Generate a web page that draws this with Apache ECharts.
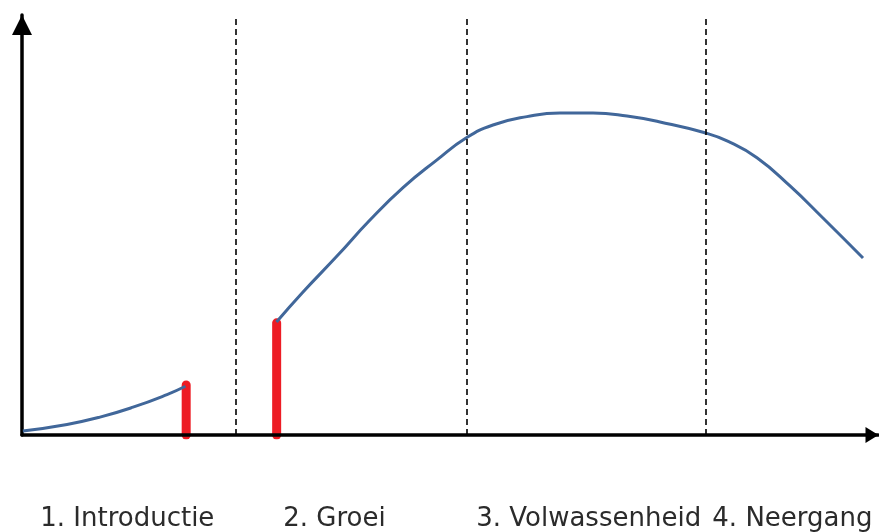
<!DOCTYPE html>
<html>
<head>
<meta charset="utf-8">
<script src="https://cdn.jsdelivr.net/npm/echarts@6/dist/echarts.min.js"></script>
<style>html,body{margin:0;padding:0;background:#fff}#c{width:879px;height:532px}</style>
</head>
<body>
<div id="c"></div>
<script>
// Phase labels and their centre positions on the time axis (0-100)
var phaseLabels = ['1. Introductie', '2. Groei', '3. Volwassenheid', '4. Neergang'];
var phaseLabelPos = [12.3, 36.5, 66.2, 90];
// Phase boundaries (dashed lines)
var phaseBounds = [25, 51.9, 79.9];
// Sales curve, segment 1 (introduction)
var curve1 = [[0.1, 0.95], [5.26, 2.52], [9.11, 4.26], [12.97, 6.62], [16.94, 9.62], [19.1, 11.6]];
// Sales curve, segment 2 (growth, maturity, decline)
var curve2 = [[29.73, 26.9], [32.83, 34.05], [36.8, 42.6], [40.65, 51.19], [44.51, 58.9], [48.48, 65.5],
  [51.87, 70.7], [55.02, 73.8], [58.99, 75.8], [62.85, 76.67], [66.71, 76.67], [70.68, 75.95],
  [74.53, 74.52], [79.67, 72.02], [82.5, 69.9], [85.86, 66.0], [89.72, 59.3], [93.57, 51.67], [98.25, 42.14]];
// Red markers (x position, height)
var redBars = [[19.18, 11.9], [29.75, 26.7]];

var chart = echarts.init(document.getElementById('c'));
var curveStyle = {color: '#41679a', width: 3};
var series = [
  {type: 'line', data: curve1, smooth: 0.5, showSymbol: false, lineStyle: curveStyle, z: 3},
  {type: 'line', data: curve2, smooth: 0.5, showSymbol: false, lineStyle: curveStyle, z: 3,
    markLine: {silent: true, symbol: ['none', 'none'], label: {show: false},
      lineStyle: {color: '#000', type: [6, 4], width: 1.6},
      data: phaseBounds.map(function (b) { return [{coord: [b, 0]}, {coord: [b, 100]}]; })}}
];
redBars.forEach(function (r) {
  series.push({type: 'line', data: [[r[0], 0], [r[0], r[1]]], showSymbol: false,
    lineStyle: {color: '#ed1c24', width: 9, cap: 'round'}, z: 1});
});
chart.setOption({
  animation: false,
  grid: {left: 22, right: 1, top: 15, bottom: 97, containLabel: false},
  xAxis: {type: 'value', min: 0, max: 100, z: 5,
    axisLine: {show: true, onZero: false, symbol: ['none', 'triangle'], symbolSize: [16, 13], symbolOffset: [0, -6],
      lineStyle: {color: '#000', width: 3.5}},
    axisTick: {show: false}, splitLine: {show: false},
    axisLabel: {customValues: phaseLabelPos, margin: 71, color: '#2b2b2b', fontSize: 26, fontFamily: 'DejaVu Sans',
      formatter: function (v) { var i = phaseLabelPos.indexOf(v); return i >= 0 ? phaseLabels[i] : ''; }}},
  yAxis: {type: 'value', min: 0, max: 100,
    axisLine: {show: true, symbol: ['none', 'triangle'], symbolSize: [20, 20], symbolOffset: [0, -10],
      lineStyle: {color: '#000', width: 3.5}},
    axisTick: {show: false}, splitLine: {show: false}, axisLabel: {show: false}},
  series: series
});
</script>
</body>
</html>
